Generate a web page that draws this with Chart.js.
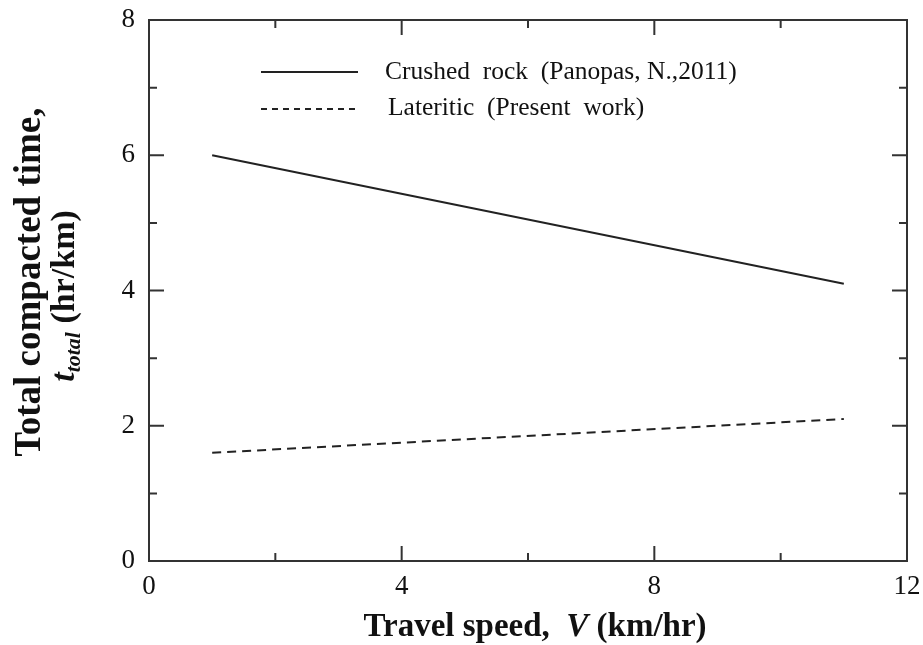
<!DOCTYPE html>
<html>
<head>
<meta charset="utf-8">
<script src="https://cdn.jsdelivr.net/npm/chart.js@4.4.1/dist/chart.umd.min.js"></script>
<style>
  html, body { margin: 0; padding: 0; background: #ffffff; }
  #wrap { width: 923px; height: 645px; }
</style>
</head>
<body>
<div id="wrap"><canvas id="c" width="923" height="645"></canvas></div>
<script>
// ---- data ----
const speedKmHr   = [1, 11];
const crushedRock = [6.0, 4.1];
const lateritic   = [1.6, 2.1];
const xTickValues = [0, 4, 8, 12];
const yTickValues = [0, 2, 4, 6, 8];
const xMinorValues = [2, 6, 10];
const yMinorValues = [1, 3, 5, 7];
const seriesNames = ['Crushed  rock  (Panopas, N.,2011)', 'Lateritic  (Present  work)'];

const SERIF = '"Liberation Serif", "Times New Roman", serif';
const INK = '#222';

function toPoints(xs, ys) { return xs.map((x, i) => ({ x: x, y: ys[i] })); }

const frame = {
  id: 'frame',
  afterDatasetsDraw(chart) {
    const ctx = chart.ctx, a = chart.chartArea;
    const xs = chart.scales.x, ys = chart.scales.y;
    ctx.save();
    ctx.strokeStyle = '#333';
    ctx.lineWidth = 2;
    ctx.strokeRect(a.left, a.top, a.right - a.left, a.bottom - a.top);
    ctx.beginPath();
    const major = 15, minor = 8;
    xTickValues.forEach(v => { const p = xs.getPixelForValue(v);
      ctx.moveTo(p, a.bottom); ctx.lineTo(p, a.bottom - major);
      ctx.moveTo(p, a.top); ctx.lineTo(p, a.top + major); });
    xMinorValues.forEach(v => { const p = xs.getPixelForValue(v);
      ctx.moveTo(p, a.bottom); ctx.lineTo(p, a.bottom - minor);
      ctx.moveTo(p, a.top); ctx.lineTo(p, a.top + minor); });
    yTickValues.forEach(v => { const p = ys.getPixelForValue(v);
      ctx.moveTo(a.left, p); ctx.lineTo(a.left + major, p);
      ctx.moveTo(a.right, p); ctx.lineTo(a.right - major, p); });
    yMinorValues.forEach(v => { const p = ys.getPixelForValue(v);
      ctx.moveTo(a.left, p); ctx.lineTo(a.left + minor, p);
      ctx.moveTo(a.right, p); ctx.lineTo(a.right - minor, p); });
    ctx.stroke();

    // legend
    ctx.fillStyle = '#111';
    ctx.font = '25.5px ' + SERIF;
    ctx.textBaseline = 'alphabetic';
    ctx.textAlign = 'left';
    const legendRows = [
      { lineY: 72, textX: 385, baseY: 79 },
      { lineY: 109, textX: 388, baseY: 115 }
    ];
    chart.data.datasets.forEach((ds, i) => {
      const r = legendRows[i];
      ctx.beginPath();
      ctx.strokeStyle = ds.borderColor;
      ctx.lineWidth = 2;
      ctx.setLineDash(i === 1 ? [6, 5] : []);
      ctx.moveTo(261, r.lineY); ctx.lineTo(358, r.lineY);
      ctx.stroke();
      ctx.setLineDash([]);
      ctx.fillText(ds.label, r.textX, r.baseY);
    });

    // x axis title
    const bold = 'bold 33px ' + SERIF, boldIt = 'italic bold 33px ' + SERIF;
    const xParts = [['Travel speed,  ', bold], ['V', boldIt], [' (km/hr)', bold]];
    let w = 0;
    xParts.forEach(p => { ctx.font = p[1]; w += ctx.measureText(p[0]).width; });
    let x = 535 - w / 2;
    ctx.fillStyle = '#111';
    xParts.forEach(p => { ctx.font = p[1]; ctx.fillText(p[0], x, 636); x += ctx.measureText(p[0]).width; });

    // y axis title (two lines, rotated)
    ctx.save();
    ctx.translate(40, 282);
    ctx.rotate(-Math.PI / 2);
    ctx.font = 'bold 37px ' + SERIF;
    ctx.textAlign = 'center';
    ctx.fillText('Total compacted time,', 0, 0);
    ctx.restore();

    const bold2 = 'bold 34px ' + SERIF, boldIt2 = 'italic bold 34px ' + SERIF;
    const l2 = [['t', boldIt2, 0], ['total', 'italic bold 22px ' + SERIF, 6], [' (hr/km)', bold2, 0]];
    let w2 = 0;
    l2.forEach(p => { ctx.font = p[1]; w2 += ctx.measureText(p[0]).width; });
    ctx.save();
    ctx.translate(74, 296);
    ctx.rotate(-Math.PI / 2);
    ctx.textAlign = 'left';
    let tx = -w2 / 2;
    l2.forEach(p => { ctx.font = p[1]; ctx.fillText(p[0], tx, p[2]); tx += ctx.measureText(p[0]).width; });
    ctx.restore();

    ctx.restore();
  }
};

function zeroPad(s) { s.paddingTop = 0; s.paddingBottom = 0; s.paddingLeft = 0; s.paddingRight = 0; }

new Chart(document.getElementById('c'), {
  type: 'scatter',
  data: {
    datasets: [
      { label: seriesNames[0], data: toPoints(speedKmHr, crushedRock), showLine: true,
        borderColor: INK, borderWidth: 2, pointRadius: 0, fill: false },
      { label: seriesNames[1], data: toPoints(speedKmHr, lateritic), showLine: true,
        borderColor: INK, borderWidth: 2, borderDash: [9, 6], pointRadius: 0, fill: false }
    ]
  },
  options: {
    responsive: false,
    animation: false,
    layout: { padding: { left: 0, right: 16, top: 20, bottom: 0 } },
    plugins: { legend: { display: false }, tooltip: { enabled: false } },
    scales: {
      x: {
        type: 'linear', min: 0, max: 12,
        afterBuildTicks: s => { s.ticks = xTickValues.map(v => ({ value: v })); },
        afterFit: s => { s.height = 84; zeroPad(s); },
        grid: { display: false, drawTicks: false },
        border: { display: false },
        ticks: { color: '#111', padding: 10, maxRotation: 0, font: { family: SERIF, size: 27 } }
      },
      y: {
        type: 'linear', min: 0, max: 8,
        afterBuildTicks: s => { s.ticks = yTickValues.map(v => ({ value: v })); },
        afterFit: s => { s.width = 149; zeroPad(s); },
        grid: { display: false, drawTicks: false },
        border: { display: false },
        ticks: { color: '#111', padding: 14, font: { family: SERIF, size: 27 } }
      }
    }
  },
  plugins: [frame]
});
</script>
</body>
</html>
